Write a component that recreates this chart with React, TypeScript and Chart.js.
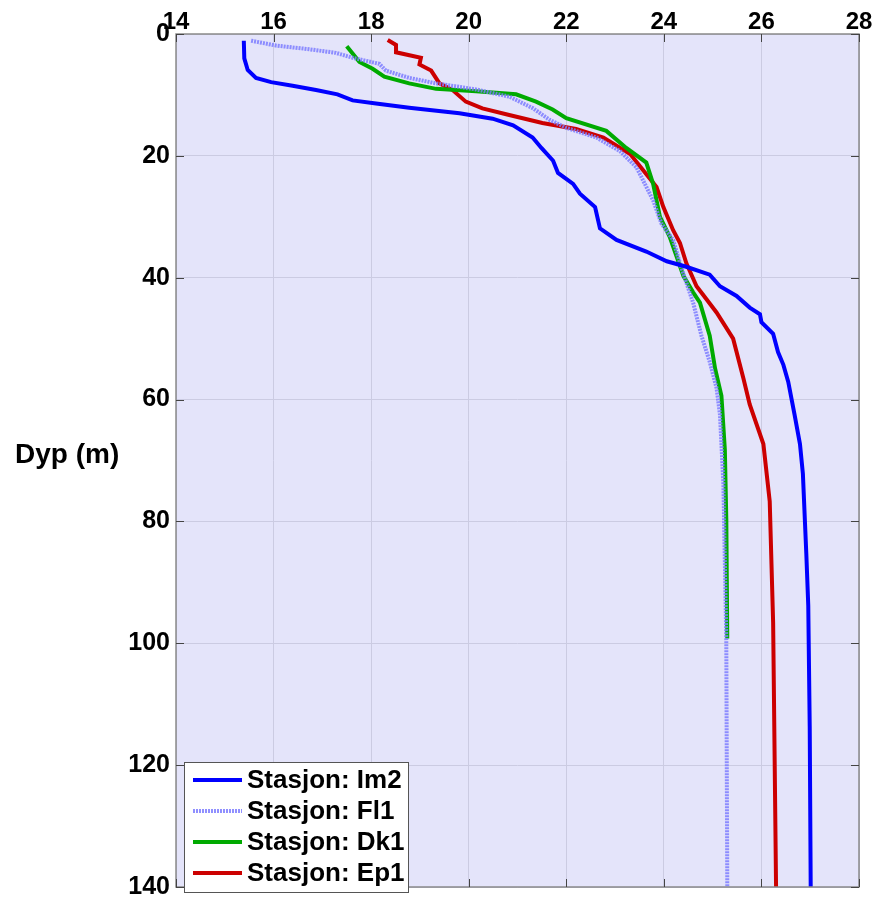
import React, { useEffect, useRef } from "react";
import { Chart, registerables } from "chart.js";

Chart.register(...registerables);

const seriesNames = ["Stasjon: Im2", "Stasjon: Fl1", "Stasjon: Dk1", "Stasjon: Ep1"];
const seriesColors = ["#0000ff", "rgba(125,125,255,0.85)", "#00aa00", "#cc0000"];

const im2Temp = [15.39, 15.40, 15.47, 15.64, 15.95, 16.39, 16.87, 17.31, 17.62, 18.10, 18.78, 19.81, 20.49, 20.91, 21.31, 21.49, 21.73, 21.83, 22.14, 22.28, 22.59, 22.69, 23.03, 23.64, 24.06, 24.46, 24.94, 25.15, 25.49, 25.76, 25.97, 26.00, 26.24, 26.34, 26.45, 26.55, 26.68, 26.79, 26.85, 26.92, 26.96, 26.99, 27.01];
const im2Depth = [1.1, 4.0, 5.9, 7.2, 7.9, 8.5, 9.2, 9.9, 10.9, 11.4, 12.1, 13.0, 13.9, 15.0, 17.0, 18.7, 20.8, 22.8, 24.6, 26.2, 28.4, 31.9, 33.8, 35.7, 37.3, 38.2, 39.5, 41.4, 43.0, 44.9, 46.0, 47.3, 49.2, 52.2, 54.3, 57.1, 62.5, 67.3, 72.2, 85.3, 93.8, 113.7, 140];

const fl1Temp = [15.54, 16.05, 16.73, 17.28, 17.62, 18.17, 18.30, 18.78, 19.33, 20.15, 20.84, 21.32, 21.66, 22.00, 22.62, 23.10, 23.44, 23.61, 23.78, 23.95, 24.19, 24.33, 24.46, 24.60, 24.77, 24.94, 25.08, 25.15, 25.22, 25.28, 25.30];
const fl1Depth = [1.1, 1.9, 2.5, 3.1, 3.9, 4.9, 6.0, 7.2, 8.1, 9.1, 10.3, 12.2, 14.1, 15.4, 17.0, 19.2, 21.9, 24.6, 27.3, 31.1, 33.8, 37.6, 40.8, 44.1, 49.5, 53.8, 58.1, 62.5, 73.8, 99.5, 140];

const dk1Temp = [17.50, 17.62, 17.76, 18.03, 18.27, 18.78, 19.33, 20.15, 20.97, 21.38, 21.72, 22.00, 22.82, 23.23, 23.64, 23.78, 23.92, 24.12, 24.26, 24.40, 24.60, 24.74, 24.94, 25.05, 25.18, 25.25, 25.28, 25.30];
const dk1Depth = [2.0, 3.2, 4.6, 5.7, 7.0, 8.1, 9.0, 9.4, 9.9, 11.1, 12.4, 13.8, 15.9, 18.7, 21.1, 24.6, 30.0, 33.3, 36.5, 39.7, 42.4, 44.1, 49.5, 54.9, 59.4, 68.2, 79.6, 99.2];

const ep1Temp = [18.34, 18.51, 18.51, 19.02, 18.99, 19.23, 19.40, 19.67, 19.94, 20.28, 20.83, 21.51, 22.20, 22.76, 23.31, 23.85, 23.99, 24.19, 24.33, 24.46, 24.67, 24.87, 25.08, 25.42, 25.63, 25.76, 26.04, 26.17, 26.24, 26.30];
const ep1Depth = [1.0, 1.8, 3.0, 3.9, 5.0, 6.0, 8.1, 9.2, 11.1, 12.2, 13.3, 14.6, 15.6, 17.0, 19.7, 25.1, 28.4, 32.2, 34.3, 37.6, 41.4, 43.5, 45.7, 50.0, 56.5, 60.8, 67.3, 76.7, 96.6, 140];

const xTicks = [14, 16, 18, 20, 22, 24, 26, 28];
const yTicks = [0, 20, 40, 60, 80, 100, 120, 140];
const yTitle = "Dyp (m)";

const temps = [im2Temp, fl1Temp, dk1Temp, ep1Temp];
const depths = [im2Depth, fl1Depth, dk1Depth, ep1Depth];

const FONT = "'Liberation Sans', Arial, Helvetica, sans-serif";

const decorPlugin = {
  id: "decor",
  beforeDraw(chart: any) {
    const { ctx, chartArea: a } = chart;
    ctx.save();
    ctx.fillStyle = "#e4e4fa";
    ctx.fillRect(a.left, a.top, a.right - a.left, a.bottom - a.top);
    ctx.restore();
  },
  afterDraw(chart: any) {
    const { ctx, chartArea: a, scales } = chart;
    ctx.save();
    ctx.strokeStyle = "#8a8a8a";
    ctx.lineWidth = 1.5;
    ctx.strokeRect(a.left, a.top, a.right - a.left, a.bottom - a.top);
    ctx.strokeStyle = "#444";
    ctx.lineWidth = 1;
    const tl = 8;
    xTicks.forEach((v) => {
      const px = Math.round(scales.x.getPixelForValue(v)) + 0.5;
      ctx.beginPath();
      ctx.moveTo(px, a.top);
      ctx.lineTo(px, a.top + tl);
      ctx.moveTo(px, a.bottom);
      ctx.lineTo(px, a.bottom - tl);
      ctx.stroke();
    });
    yTicks.forEach((v) => {
      const py = Math.round(scales.y.getPixelForValue(v)) + 0.5;
      ctx.beginPath();
      ctx.moveTo(a.left, py);
      ctx.lineTo(a.left + tl, py);
      ctx.moveTo(a.right, py);
      ctx.lineTo(a.right - tl, py);
      ctx.stroke();
    });
    ctx.fillStyle = "#000";
    ctx.font = `bold 28px ${FONT}`;
    ctx.textAlign = "left";
    ctx.textBaseline = "middle";
    ctx.fillText(yTitle, 15, 455);
    const lx = 184, ly = 762, lw = 224, lh = 130;
    ctx.fillStyle = "#ffffff";
    ctx.fillRect(lx, ly, lw, lh);
    ctx.strokeStyle = "#555";
    ctx.lineWidth = 1;
    ctx.strokeRect(lx + 0.5, ly + 0.5, lw, lh);
    ctx.font = `bold 26px ${FONT}`;
    seriesNames.forEach((name, i) => {
      const yy = 780 + i * 31;
      ctx.strokeStyle = seriesColors[i];
      ctx.lineWidth = 4;
      ctx.setLineDash(i === 1 ? [2, 1] : []);
      ctx.beginPath();
      ctx.moveTo(193, yy);
      ctx.lineTo(242, yy);
      ctx.stroke();
      ctx.setLineDash([]);
      ctx.fillStyle = "#000";
      ctx.fillText(name, 247, yy + 1);
    });
    ctx.restore();
  },
};

export default function App() {
  const ref = useRef<HTMLCanvasElement>(null);
  useEffect(() => {
    document.body.style.margin = "0";
    const datasets = seriesNames.map((name, i) => ({
      label: name,
      data: temps[i].map((t, j) => ({ x: t, y: depths[i][j] })),
      borderColor: seriesColors[i],
      backgroundColor: seriesColors[i],
      borderWidth: 4,
      borderDash: i === 1 ? [2, 1] : [],
      pointRadius: 0,
      showLine: true,
      fill: false,
      tension: 0,
    }));
    const chart = new Chart(ref.current!, {
      type: "scatter",
      data: { datasets },
      options: {
        responsive: false,
        animation: false,
        devicePixelRatio: 1,
        layout: { padding: { left: 0, top: 0, right: 16, bottom: 9 } },
        plugins: { legend: { display: false }, tooltip: { enabled: false } },
        scales: {
          x: {
            type: "linear",
            position: "top",
            min: 14,
            max: 28,
            afterBuildTicks: (s: any) => { s.ticks = xTicks.map((v) => ({ value: v })); },
            afterFit: (s: any) => { s.height = 34; },
            ticks: { color: "#000", padding: -3, font: { family: FONT, size: 24, weight: "bold" } },
            grid: { color: "#cbcbe2", drawTicks: false, lineWidth: 1 },
            border: { display: false },
          },
          y: {
            type: "linear",
            reverse: true,
            min: 0,
            max: 140,
            afterBuildTicks: (s: any) => { s.ticks = yTicks.map((v) => ({ value: v })); },
            afterFit: (s: any) => { s.width = 176; },
            ticks: { color: "#000", padding: 6, font: { family: FONT, size: 25, weight: "bold" } },
            grid: { color: "#cbcbe2", drawTicks: false, lineWidth: 1 },
            border: { display: false },
          },
        },
      } as any,
      plugins: [decorPlugin],
    });
    return () => chart.destroy();
  }, []);
  return <canvas ref={ref} width={875} height={908} style={{ display: "block" }} />;
}
